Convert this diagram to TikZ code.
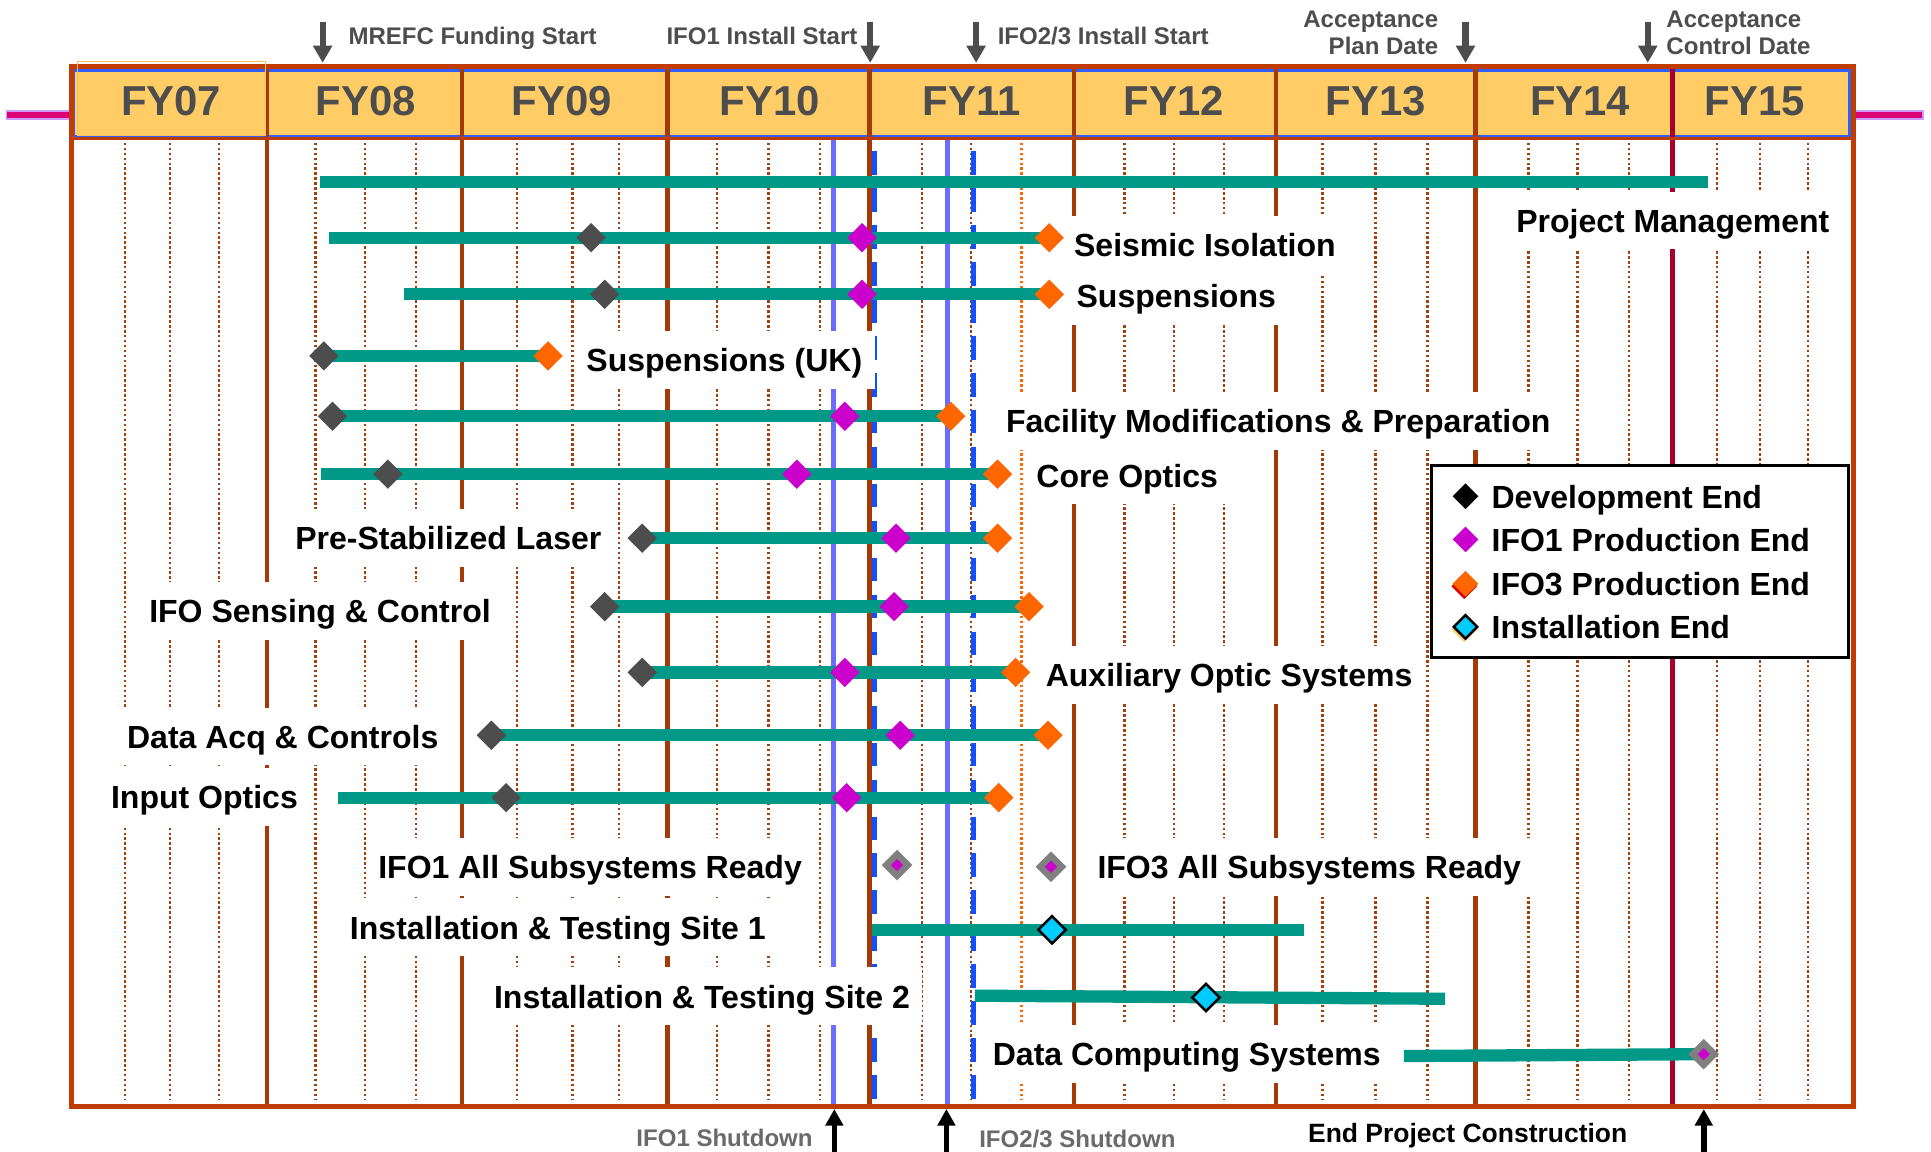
\documentclass[tikz,border=0pt]{standalone}
\usepackage{fontspec}
\setmainfont{Liberation Sans}
\usetikzlibrary{shapes.geometric,arrows.meta}
\definecolor{fr}{HTML}{C03C00}
\definecolor{yline}{HTML}{A33A08}
\definecolor{dotc}{HTML}{A0400F}
\definecolor{crim}{HTML}{A8002E}
\definecolor{hdr}{HTML}{FFCC66}
\definecolor{hblue}{HTML}{2F5FFF}
\definecolor{barc}{HTML}{009988}
\definecolor{devc}{HTML}{4D4D4D}
\definecolor{ifoa}{HTML}{CC00CC}
\definecolor{ifoc}{HTML}{FF6600}
\definecolor{instc}{HTML}{00CCFF}
\definecolor{lblue}{HTML}{6B6BFF}
\definecolor{dblue}{HTML}{1050FF}
\definecolor{mag}{HTML}{DD0077}
\definecolor{lpur}{HTML}{CC99FF}
\definecolor{gtxt}{HTML}{4D4D4D}
\definecolor{gtxtb}{HTML}{6A6A6A}
\begin{document}
\begin{tikzpicture}[x=1pt,y=-1pt,
  lbl/.style={font=\fontsize{26}{30}\selectfont\bfseries, fill=white, text height=19pt, text depth=0pt, inner xsep=10pt, inner ysep=14pt, anchor=west},
  yr/.style={font=\fontsize{34}{40}\selectfont\bfseries, text=gtxt, text height=24pt, text depth=0pt, inner sep=0pt},
  ann/.style={font=\fontsize{19.5}{23}\selectfont\bfseries, text=gtxt, text height=14pt, text depth=0pt, inner sep=0pt},
  annb/.style={font=\fontsize{19.5}{23}\selectfont\bfseries, text=gtxtb, text height=14pt, text depth=0pt, inner sep=0pt},
  lgt/.style={font=\fontsize{26}{30}\selectfont\bfseries, text height=19pt, text depth=0pt, inner sep=0pt, anchor=west},
  mk/.style={shape=diamond, aspect=1, minimum size=24pt, inner sep=0pt},
  dev/.style={mk, fill=devc},
  pone/.style={mk, fill=ifoa},
  pthree/.style={mk, fill=ifoc},
  inst/.style={mk, fill=instc, draw=black, line width=2pt, minimum size=23pt},
  rdyo/.style={mk, fill=gray, minimum size=25pt},
  rdyi/.style={mk, fill=ifoa, minimum size=10pt},
  bar/.style={draw=barc, line width=10pt},
  darr/.style={draw=devc, line width=5pt, -{Triangle[width=15pt,length=14pt]}},
  barr/.style={draw=black, line width=4.6pt, -{Triangle[width=14pt,length=13.5pt]}},
  dotl/.style={dotc, line width=2pt, dash pattern=on 2pt off 2pt},
]
\useasboundingbox (0,0) rectangle (1568,935);
\fill[white] (0,0) rectangle (1568,935);

% header
\fill[hdr] (60,56) rectangle (1503,112);
\draw[hblue, line width=2.5pt] (60,57.5) rectangle (1502,110.5);

% quarter dotted lines
\foreach \x in {101.5,138,178,256,296.5,338,420,465,502.5,582,624,666,748.6,788.6,913,953.5,994,1074,1117,1159,1241,1281,1322.6,1394,1429,1468}
  \draw[dotl] (\x,116) -- (\x,893);
\draw[ifoc, line width=2pt, dash pattern=on 2pt off 2pt] (829.6,116) -- (829.6,893);

% year lines
\foreach \x in {217,375,542,706,872,1036,1198}
  \draw[yline, line width=3.5pt] (\x,56) -- (\x,897);
\draw[crim, line width=3.5pt] (1358,56) -- (1358,897);

% milestone lines
\draw[lblue, line width=4pt] (677,113) -- (677,897);
\draw[lblue, line width=4pt] (769.5,113) -- (769.5,897);
\draw[dblue, line width=3.5pt, dash pattern=on 19pt off 11pt] (710,123) -- (710,897);
\draw[dblue, line width=3.5pt, dash pattern=on 19pt off 11pt] (790.6,123) -- (790.6,897);

% frame
\draw[fr, line width=2.5pt] (58,112.5) -- (1505,112.5);
\draw[fr, line width=3.5pt] (58,54) rectangle (1505,898.5);
\draw[hdr!85!orange, line width=1.2pt] (63,50) rectangle (215.5,110);
\draw[lpur, line width=7.5pt] (5,93.4) -- (56,93.4);
\draw[mag, line width=5pt] (6,93.4) -- (56,93.4);
\draw[lpur, line width=7.5pt] (1507,93.4) -- (1562,93.4);
\draw[mag, line width=5pt] (1507,93.4) -- (1561,93.4);

% year labels
\node[yr] (hFY07) at (139,82) {FY07};
\node[yr] (hFY08) at (297,82) {FY08};
\node[yr] (hFY09) at (456,82) {FY09};
\node[yr] (hFY10) at (625,82) {FY10};
\node[yr] (hFY11) at (789,82) {FY11};
\node[yr] (hFY12) at (953,82) {FY12};
\node[yr] (hFY13) at (1117,82) {FY13};
\node[yr] (hFY14) at (1283,82) {FY14};
\node[yr] (hFY15) at (1425,82) {FY15};

% top annotations
\node[ann, anchor=west] (tMREFC) at (282.8,29) {MREFC Funding Start};
\node[ann, anchor=east] (tIFOa) at (696.4,29) {IFO1 Install Start};
\node[ann, anchor=west] (tIFOb) at (810,29) {IFO2/3 Install Start};
\node[ann, anchor=east] (tAPa) at (1168,15) {Acceptance};
\node[ann, anchor=east] (tAPb) at (1168,37) {Plan Date};
\node[ann, anchor=west] (tACa) at (1353,15) {Acceptance};
\node[ann, anchor=west] (tACb) at (1353,37) {Control Date};
\coordinate (aMa) at (262,17.6);  \coordinate (aMb) at (262,51);
\coordinate (aIa) at (706.6,17.6); \coordinate (aIb) at (706.6,51);
\coordinate (aJa) at (792.6,17.6); \coordinate (aJb) at (792.6,51);
\coordinate (aPa) at (1190,17.6); \coordinate (aPb) at (1190,51);
\coordinate (aCa) at (1338,17.6); \coordinate (aCb) at (1338,51);
\draw[darr] (aMa) -- (aMb);
\draw[darr] (aIa) -- (aIb);
\draw[darr] (aJa) -- (aJb);
\draw[darr] (aPa) -- (aPb);
\draw[darr] (aCa) -- (aCb);

% bottom annotations
\node[annb, anchor=east] (bSa) at (660,924) {IFO1 Shutdown};
\node[annb, anchor=west] (bSb) at (795,925) {IFO2/3 Shutdown};
\node[font=\fontsize{21.5}{25}\selectfont\bfseries, text height=15.4pt, text depth=0pt, inner sep=0pt, anchor=west] (bEnd) at (1062,920) {End Project Construction};
\coordinate (bAa) at (677.5,936); \coordinate (bAb) at (677.5,900.5);
\coordinate (bBa) at (768.5,936); \coordinate (bBb) at (768.5,900.5);
\coordinate (bCa) at (1383.5,936); \coordinate (bCb) at (1383.5,900.5);
\draw[barr] (bAa) -- (bAb);
\draw[barr] (bBa) -- (bBb);
\draw[barr] (bCa) -- (bCb);

% row labels (white boxes)
\node[lbl] (lPM) at (1221,179) {Project Management};
\node[lbl] (lSI) at (862,199) {Seismic Isolation};
\node[lbl] (lSU) at (864,240) {Suspensions};
\node[lbl] (lUK) at (466,292) {Suspensions (UK)};
\node[lbl] (lFM) at (806.7,342) {Facility Modifications \& Preparation};
\node[lbl] (lCO) at (831.4,386) {Core Optics};
\node[lbl] (lPSL) at (229.6,436.5) {Pre-Stabilized Laser};
\node[lbl] (lISC) at (111,496) {IFO Sensing \& Control};
\node[lbl] (lAOS) at (839,548) {Auxiliary Optic Systems};
\node[lbl] (lDAQ) at (93,598) {Data Acq \& Controls};
\node[lbl] (lIO) at (80,647) {Input Optics};
\node[lbl] (lRa) at (297,704) {IFO1 All Subsystems Ready};
\node[lbl] (lRc) at (881,704) {IFO3 All Subsystems Ready};
\node[lbl] (lSa) at (274,753) {Installation \& Testing Site 1};
\node[lbl] (lSb) at (391,809) {Installation \& Testing Site 2};
\node[lbl] (lDCS) at (796,856) {Data Computing Systems};

% legend
\node[draw=black, line width=2.5pt, fill=white, minimum width=339pt, minimum height=156pt, inner sep=0pt, anchor=north west] (legend) at (1161,377) {};
\node[mk, fill=black, minimum size=21pt] (lgD) at (1190,403) {};
\node[mk, fill=ifoa, minimum size=21pt] (lgP) at (1190,438) {};
\node[mk, fill=red!85!black, minimum size=21pt] (lgOs) at (1189,476) {};
\node[mk, fill=ifoc, minimum size=21pt] (lgO) at (1190,474) {};
\node[mk, fill=hdr, minimum size=21pt] (lgIs) at (1189,511) {};
\node[mk, fill=instc, draw=black, line width=2pt, minimum size=20pt] (lgI) at (1190,509) {};
\node[lgt] (lgDt) at (1211,403) {Development End};
\node[lgt] (lgPt) at (1211,438) {IFO1 Production End};
\node[lgt] (lgOt) at (1211,474) {IFO3 Production End};
\node[lgt] (lgIt) at (1211,509) {Installation End};

% bars
% Project Management
\coordinate (pmA) at (260,148); \coordinate (pmB) at (1387,148);
\draw[bar] (pmA) -- (pmB);
% Seismic Isolation
\coordinate (siA) at (267,193); \coordinate (siO) at (852,193);
\draw[bar] (siA) -- (siO);
\node[dev] (siDm) at (480,193) {}; \node[pone] (siPm) at (700,193) {}; \node[pthree] (siOm) at (siO) {};
% Suspensions
\coordinate (suA) at (328,239); \coordinate (suO) at (852,239);
\draw[bar] (suA) -- (suO);
\node[dev] (suDm) at (491,239) {}; \node[pone] (suPm) at (700,239) {}; \node[pthree] (suOm) at (suO) {};
% Suspensions (UK)
\coordinate (ukD) at (263,289); \coordinate (ukO) at (445,289);
\draw[bar] (ukD) -- (ukO);
\node[dev] (ukDm) at (ukD) {}; \node[pthree] (ukOm) at (ukO) {};
% Facility
\coordinate (fmD) at (270,338); \coordinate (fmO) at (772,338);
\draw[bar] (fmD) -- (fmO);
\node[dev] (fmDm) at (fmD) {}; \node[pone] (fmPm) at (686,338) {}; \node[pthree] (fmOm) at (fmO) {};
% Core Optics
\coordinate (coA) at (261,385); \coordinate (coO) at (810,385);
\draw[bar] (coA) -- (coO);
\node[dev] (coDm) at (315,385) {}; \node[pone] (coPm) at (647,385) {}; \node[pthree] (coOm) at (coO) {};
% PSL
\coordinate (psD) at (521.5,437); \coordinate (psO) at (810,437);
\draw[bar] (psD) -- (psO);
\node[dev] (psDm) at (psD) {}; \node[pone] (psPm) at (727.6,437) {}; \node[pthree] (psOm) at (psO) {};
% ISC
\coordinate (isD) at (491,492.6); \coordinate (isO) at (835.6,492.6);
\draw[bar] (isD) -- (isO);
\node[dev] (isDm) at (isD) {}; \node[pone] (isPm) at (726,492.6) {}; \node[pthree] (isOm) at (isO) {};
% AOS
\coordinate (aoD) at (521.5,546); \coordinate (aoO) at (824.7,546);
\draw[bar] (aoD) -- (aoO);
\node[dev] (aoDm) at (aoD) {}; \node[pone] (aoPm) at (686,546) {}; \node[pthree] (aoOm) at (aoO) {};
% DAQ
\coordinate (daD) at (399,597); \coordinate (daO) at (851,597);
\draw[bar] (daD) -- (daO);
\node[dev] (daDm) at (daD) {}; \node[pone] (daPm) at (731,597) {}; \node[pthree] (daOm) at (daO) {};
% Input Optics
\coordinate (ioA) at (274.5,647.7); \coordinate (ioO) at (811,647.7);
\draw[bar] (ioA) -- (ioO);
\node[dev] (ioDm) at (411,647.7) {}; \node[pone] (ioPm) at (687.5,647.7) {}; \node[pthree] (ioOm) at (ioO) {};
% subsystems ready
\node[rdyo] (raO) at (728.4,702.4) {}; \node[rdyi] (raI) at (raO) {};
\node[rdyo] (rcO) at (853.4,703.8) {}; \node[rdyi] (rcI) at (rcO) {};
% Site 1
\coordinate (saA) at (707.8,755); \coordinate (saB) at (1058.6,755);
\draw[bar] (saA) -- (saB);
\node[inst] (saI) at (854.3,755) {};
% Site 2
\coordinate (sbA) at (791.7,808.5); \coordinate (sbB) at (1173.4,811);
\draw[bar] (sbA) -- (sbB);
\node[inst] (sbI) at (979.3,810) {};
% Data Computing
\coordinate (dcA) at (1140,857.5); \coordinate (dcM) at (1383.4,856);
\draw[bar] (dcA) -- (dcM);
\node[rdyo] (dcO) at (dcM) {}; \node[rdyi] (dcI) at (dcM) {};
\end{tikzpicture}
\end{document}
